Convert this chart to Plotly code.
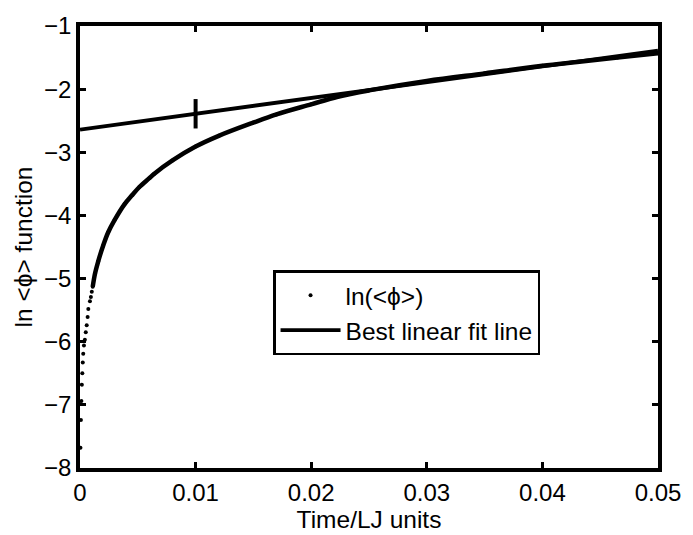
import plotly.graph_objects as go

# ln(<phi>) readings (time, value)
t_vals = [0.00004, 0.00008, 0.00012, 0.00016, 0.00020, 0.00024, 0.00028, 0.00034,
          0.00042, 0.00050, 0.00058, 0.00066, 0.00072, 0.00086, 0.00094, 0.00102,
          0.00110, 0.00130, 0.00157, 0.00200, 0.00243, 0.00300, 0.00386, 0.00450,
          0.00514, 0.00600, 0.00643, 0.00800, 0.01000, 0.01200, 0.01500, 0.01700,
          0.02000, 0.02230, 0.02500, 0.03000, 0.03500, 0.04000, 0.04300, 0.04650,
          0.05000]
ln_phi = [-7.68, -7.24, -6.94, -6.68, -6.50, -6.33, -6.19, -6.06,
          -5.97, -5.85, -5.74, -5.61, -5.48, -5.36, -5.29, -5.21,
          -5.13, -4.92, -4.73, -4.48, -4.27, -4.07, -3.82, -3.68,
          -3.55, -3.41, -3.34, -3.13, -2.91, -2.74, -2.53, -2.40,
          -2.24, -2.12, -2.02, -1.87, -1.75, -1.63, -1.57, -1.50,
          -1.43]
dense_from = 16  # index where dots merge into a continuous band

# best linear fit line endpoints
fit_t = [0.0, 0.05]
fit_y = [-2.64, -1.39]

# marker on the fit line
mark_t = [0.01]
mark_y = [-2.39]

x_ticks = [0, 0.01, 0.02, 0.03, 0.04, 0.05]
x_labels = ["0", "0.01", "0.02", "0.03", "0.04", "0.05"]
y_ticks = [-8, -7, -6, -5, -4, -3, -2, -1]

FONT = "Liberation Sans, Arial, sans-serif"

fig = go.Figure()
fig.add_trace(go.Scatter(x=t_vals[dense_from:], y=ln_phi[dense_from:], mode="lines",
                         line=dict(color="black", width=4.5, shape="spline", smoothing=1.0),
                         showlegend=False, hoverinfo="skip"))
fig.add_trace(go.Scatter(x=t_vals, y=ln_phi, mode="markers",
                         marker=dict(color="black", size=4),
                         name="ln(<ϕ>)"))
fig.add_trace(go.Scatter(x=fit_t, y=fit_y, mode="lines",
                         line=dict(color="black", width=3.8),
                         name="Best linear fit line"))
fig.add_trace(go.Scatter(x=mark_t, y=mark_y, mode="markers",
                         marker=dict(symbol="line-ns", size=21,
                                     line=dict(color="black", width=4)),
                         showlegend=False))

axis_common = dict(showgrid=False, zeroline=False, showline=True, linecolor="black",
                   linewidth=3.5, mirror="ticks", ticks="inside", ticklen=6,
                   tickwidth=2.5, tickcolor="black",
                   tickfont=dict(family=FONT, size=24, color="black"))

fig.update_xaxes(range=[0, 0.05], tickvals=x_ticks, ticktext=x_labels,
                 title=dict(text="Time/LJ units", font=dict(family=FONT, size=24.5, color="black"),
                            standoff=0),
                 **axis_common)
fig.update_yaxes(range=[-8, -1], tickvals=y_ticks,
                 title=dict(text="ln <ϕ> function", font=dict(family=FONT, size=24.5, color="black"),
                            standoff=6),
                 **axis_common)

fig.update_layout(
    width=693, height=535,
    margin=dict(l=80, r=29, t=14, b=58),
    plot_bgcolor="white", paper_bgcolor="white",
    font=dict(family=FONT, size=24, color="black"),
    legend=dict(x=0.334, y=0.447, xanchor="left", yanchor="top",
                bordercolor="black", borderwidth=2.5, bgcolor="white",
                font=dict(family=FONT, size=24.5, color="black"),
                itemwidth=60, tracegroupgap=0),
)

fig.write_html("out.html")
